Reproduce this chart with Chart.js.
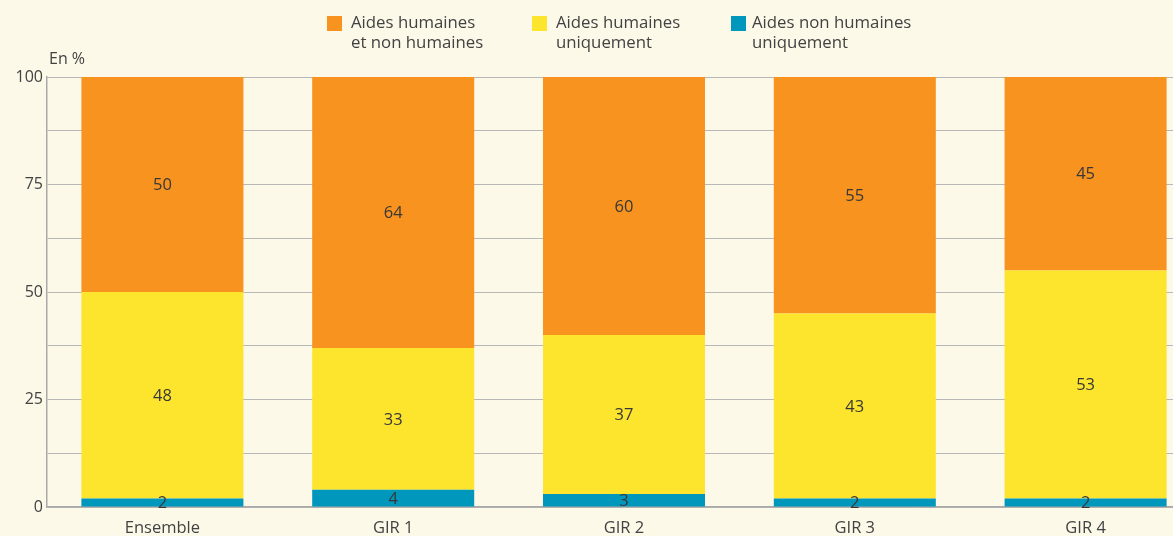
<!DOCTYPE html>
<html>
<head>
<meta charset="utf-8">
<script src="https://cdn.jsdelivr.net/npm/chart.js@4/dist/chart.umd.min.js"></script>
<style>
  html, body { margin: 0; padding: 0; background: #FDF9E9; overflow: hidden; }
  #wrap { position: relative; width: 1201px; height: 536px; }
</style>
</head>
<body>
<div id="wrap"><canvas id="c"></canvas></div>
<script>
const categories = ['Ensemble', 'GIR 1', 'GIR 2', 'GIR 3', 'GIR 4'];
const nonHumainesSeules = [2, 4, 3, 2, 2];
const humainesSeules = [48, 33, 37, 43, 53];
const humainesEtNonHumaines = [50, 64, 60, 55, 45];
const seriesNames = [['Aides humaines', 'et non humaines'], ['Aides humaines', 'uniquement'], ['Aides non humaines', 'uniquement']];
const yTicks = [0, 25, 50, 75, 100];
const unitLabel = 'En %';

const COLORS = { orange: '#F7931E', yellow: '#FDE52D', blue: '#0097BD' };
const TEXT = '#424242';
const FONT = '"Open Sans", Lato, sans-serif';

const labelsPlugin = {
  id: 'labels',
  afterDatasetsDraw(chart) {
    const ctx = chart.ctx;
    const area = chart.chartArea;
    ctx.save();
    ctx.fillStyle = '#383838';
    ctx.font = '16.5px ' + FONT;
    ctx.textAlign = 'center';
    ctx.textBaseline = 'middle';
    chart.data.datasets.forEach((ds, i) => {
      const meta = chart.getDatasetMeta(i);
      meta.data.forEach((el, j) => {
        const p = el.getProps(['x', 'y', 'base'], true);
        const top = Math.max(p.y, area.top);
        const mid = (top + p.base) / 2;
        ctx.fillText(String(ds.data[j]), p.x, mid + 1);
      });
    });
    ctx.restore();
  },
  afterDraw(chart) {
    const ctx = chart.ctx;
    ctx.save();
    ctx.fillStyle = TEXT;
    ctx.font = '16px ' + FONT;
    ctx.textBaseline = 'middle';
    ctx.textAlign = 'left';
    ctx.fillText(unitLabel, 49, 59);
    // legend
    ctx.font = '16.8px ' + FONT;
    const items = [
      { x: 327, tx: 351, color: COLORS.orange, text: seriesNames[0] },
      { x: 532, tx: 556, color: COLORS.yellow, text: seriesNames[1] },
      { x: 731, tx: 752, color: COLORS.blue, text: seriesNames[2] }
    ];
    items.forEach(it => {
      ctx.fillStyle = it.color;
      ctx.fillRect(it.x, 16, 15, 15);
      ctx.fillStyle = TEXT;
      it.text.forEach((t, k) => ctx.fillText(t, it.tx, 23 + k * 20));
    });
    ctx.restore();
  }
};

new Chart(document.getElementById('c'), {
  type: 'bar',
  data: {
    labels: categories,
    datasets: [
      { label: seriesNames[2].join(' '), data: nonHumainesSeules, backgroundColor: COLORS.blue },
      { label: seriesNames[1].join(' '), data: humainesSeules, backgroundColor: COLORS.yellow },
      { label: seriesNames[0].join(' '), data: humainesEtNonHumaines, backgroundColor: COLORS.orange }
    ]
  },
  options: {
    responsive: true,
    maintainAspectRatio: false,
    animation: false,
    layout: { padding: { top: 77, left: 0, right: 0, bottom: 0 } },
    datasets: { bar: { barPercentage: 0.702, categoryPercentage: 1, borderWidth: 0 } },
    plugins: { legend: { display: false }, tooltip: { enabled: false } },
    scales: {
      x: {
        stacked: true,
        grid: { display: false, drawTicks: false },
        border: { display: true, color: '#a9a9a9', width: 1.5 },
        ticks: { color: TEXT, font: { family: FONT, size: 16.5 }, padding: 11, maxRotation: 0 },
        afterFit(s) { s.height = 29; }
      },
      y: {
        stacked: true,
        min: 0, max: 100,
        afterBuildTicks(s) {
          const t = [];
          for (let v = 0; v <= 100; v += 12.5) t.push({ value: v });
          s.ticks = t;
        },
        grid: { color: '#b8b8b8', lineWidth: 1, drawTicks: false },
        border: { display: true, color: '#a9a9a9', width: 1.5 },
        ticks: {
          color: TEXT, font: { family: FONT, size: 16 }, padding: 4,
          callback: v => yTicks.includes(v) ? String(v) : ''
        },
        afterFit(s) { s.width = 47; }
      }
    }
  },
  plugins: [labelsPlugin]
});
</script>
</body>
</html>
